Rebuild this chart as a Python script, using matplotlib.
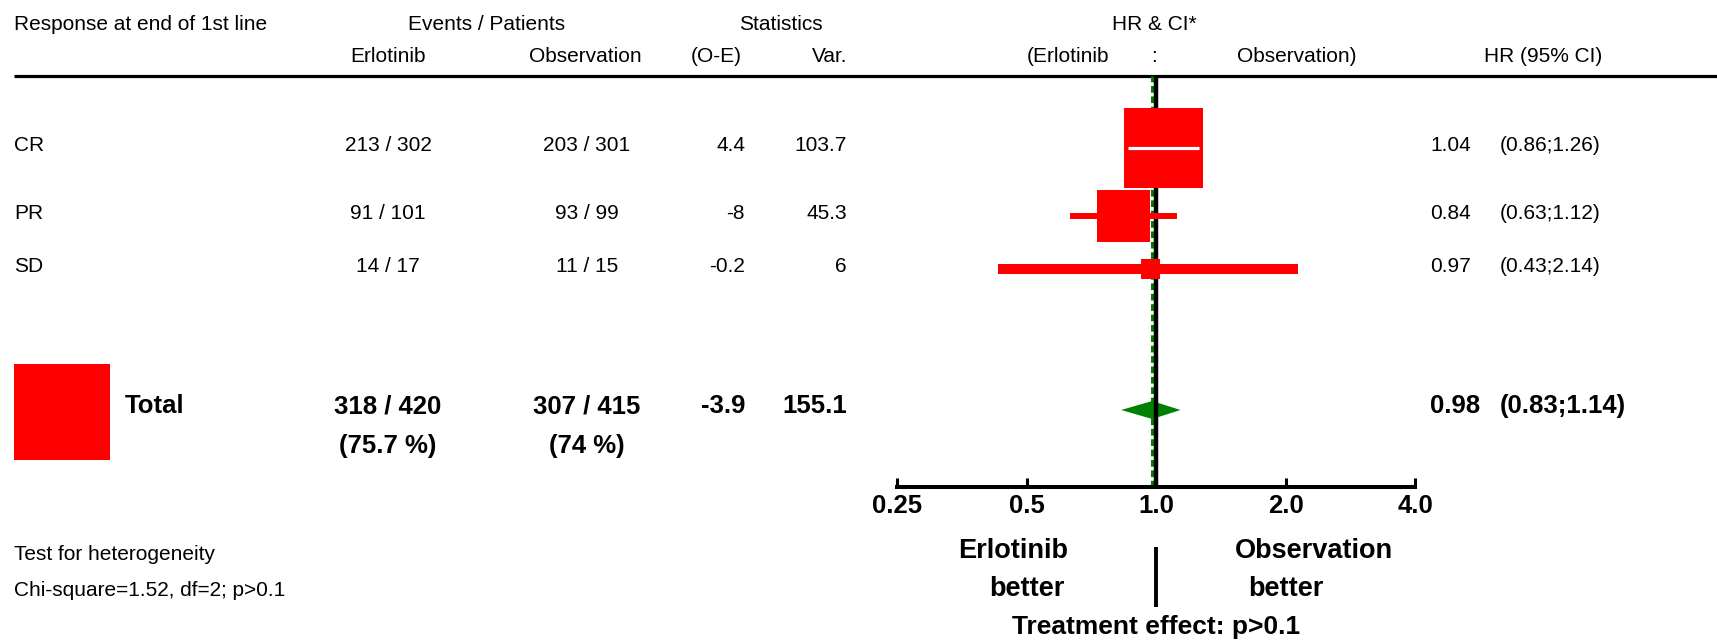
import matplotlib
matplotlib.use('Agg')
import matplotlib.pyplot as plt

# --- Data: response at end of 1st line, erlotinib vs observation ---
groups = ["CR", "PR", "SD"]
erl_events = [213, 91, 14]
erl_patients = [302, 101, 17]
obs_events = [203, 93, 11]
obs_patients = [301, 99, 15]
o_minus_e = [4.4, -8, -0.2]
variance = [103.7, 45.3, 6]
hr = [1.04, 0.84, 0.97]
ci_low = [0.86, 0.63, 0.43]
ci_high = [1.26, 1.12, 2.14]

total_events = [318, 307]
total_patients = [420, 415]
total_pct = [75.7, 74]
total_o_minus_e = -3.9
total_variance = 155.1
total_hr = 0.98
total_ci = [0.83, 1.14]

hr_ticks = [0.25, 0.5, 1.0, 2.0, 4.0]
hr_tick_labels = ["0.25", "0.5", "1.0", "2.0", "4.0"]

# --- Layout / style ---
W, H = 1717, 640
RED = '#ff0000'
GREEN = '#008000'
SQUARE_SCALE = 31.2          # marker area (pt^2) per unit of variance
row_y = [148, 216, 269]      # vertical centre of each subgroup row (px from top)
total_y = 410
ci_colors = ['white', RED, RED]
ci_widths = [2.3, 4.3, 7.2]

plt.rcParams['font.family'] = ['Liberation Sans', 'DejaVu Sans']
FS = 15
FS_B = 18.5

fig = plt.figure(figsize=(W / 100, H / 100), dpi=100)

# table area in pixel coordinates
tab = fig.add_axes([0, 0, 1, 1])
tab.set_xlim(0, W)
tab.set_ylim(H, 0)
tab.axis('off')

def txt(x, y, s, ha='left', size=FS, bold=False):
    tab.text(x, y, s, ha=ha, va='baseline', fontsize=size,
             fontweight='bold' if bold else 'normal')

# headers
txt(14, 30, "Response at end of 1st line")
txt(487, 30, "Events / Patients", ha='center')
txt(781, 30, "Statistics", ha='center')
txt(1154, 30, "HR & CI*", ha='center')
txt(388, 62, "Erlotinib", ha='center')
txt(585, 62, "Observation", ha='center')
txt(716, 62, "(O-E)", ha='center')
txt(847, 62, "Var.", ha='right')
txt(1027, 62, "(Erlotinib")
txt(1154, 62, ":", ha='center')
txt(1237, 62, "Observation)")
txt(1543, 62, "HR (95% CI)", ha='center')
tab.plot([14, W], [76, 76], color='black', lw=2.3, solid_capstyle='butt')

# subgroup rows
for i, g in enumerate(groups):
    y = row_y[i] + 3
    txt(14, y, g)
    txt(388, y, f"{erl_events[i]} / {erl_patients[i]}", ha='center')
    txt(587, y, f"{obs_events[i]} / {obs_patients[i]}", ha='center')
    txt(745, y, f"{o_minus_e[i]:g}", ha='right')
    txt(847, y, f"{variance[i]:g}", ha='right')
    txt(1430, y, f"{hr[i]:.2f}")
    txt(1500, y, f"({ci_low[i]:.2f};{ci_high[i]:.2f})")

# total row
ty = total_y + 3
tab.scatter([62], [total_y + 2], s=SQUARE_SCALE * total_variance, marker='s',
            color=RED, linewidths=0)
txt(125, ty, "Total", bold=True, size=FS_B)
txt(388, ty, f"{total_events[0]} / {total_patients[0]}", ha='center', bold=True, size=FS_B)
txt(587, ty, f"{total_events[1]} / {total_patients[1]}", ha='center', bold=True, size=FS_B)
txt(388, ty + 40, f"({total_pct[0]:g} %)", ha='center', bold=True, size=FS_B)
txt(587, ty + 40, f"({total_pct[1]:g} %)", ha='center', bold=True, size=FS_B)
txt(745, ty, f"{total_o_minus_e:g}", ha='right', bold=True, size=FS_B)
txt(847, ty, f"{total_variance:g}", ha='right', bold=True, size=FS_B)
txt(1430, ty, f"{total_hr:.2f}", bold=True, size=FS_B)
txt(1500, ty, f"({total_ci[0]:.2f};{total_ci[1]:.2f})", bold=True, size=FS_B)

txt(14, 560, "Test for heterogeneity")
txt(14, 596, "Chi-square=1.52, df=2; p>0.1")

# forest plot, log2 HR scale; y kept in pixel rows
ax = fig.add_axes([897 / W, 1 - 487 / H, (1415 - 897) / W, (487 - 76) / H])
ax.set_facecolor('none')
ax.set_xscale('log', base=2)
ax.set_xlim(0.25, 4)
ax.set_ylim(487, 76)
for side in ['top', 'left', 'right']:
    ax.spines[side].set_visible(False)
ax.spines['bottom'].set_linewidth(2.9)
ax.set_yticks([])
ax.set_xticks(hr_ticks)
ax.set_xticklabels(hr_tick_labels)
ax.minorticks_off()
ax.tick_params(axis='x', direction='in', length=6.5, width=2.2, pad=5,
               labelsize=FS_B)
for lab in ax.get_xticklabels():
    lab.set_fontweight('bold')

# pooled diamond
d = 9
ax.fill([total_ci[0], total_hr, total_ci[1], total_hr],
        [total_y, total_y - d, total_y, total_y + d],
        color=GREEN, lw=0, zorder=1)
ax.axvline(total_hr, color=GREEN, lw=2.2, ls=(0, (2.2, 1.2)), zorder=1.5)
ax.axvline(1.0, color='black', lw=3.2, zorder=2)

for i in range(len(groups)):
    ax.plot([ci_low[i], ci_high[i]], [row_y[i], row_y[i]], color=RED,
            lw=ci_widths[i], solid_capstyle='butt', zorder=2.5)
ax.scatter(hr, row_y, s=[SQUARE_SCALE * v for v in variance], marker='s',
           color=RED, linewidths=0, zorder=3)
for i in range(len(groups)):
    if ci_colors[i] == 'white':
        ax.plot([ci_low[i], ci_high[i]], [row_y[i], row_y[i]], color='white',
                lw=ci_widths[i], solid_capstyle='butt', zorder=4)

# labels under the axis
ax.plot([1.0, 1.0], [547, 607], color='black', lw=2.8, clip_on=False,
        solid_capstyle='butt')
ax.text(0.465, 558, "Erlotinib", ha='center', va='baseline', fontsize=19.5,
        fontweight='bold')
ax.text(0.5, 596, "better", ha='center', va='baseline', fontsize=19.5,
        fontweight='bold')
ax.text(2.33, 558, "Observation", ha='center', va='baseline', fontsize=19.5,
        fontweight='bold')
ax.text(2.0, 596, "better", ha='center', va='baseline', fontsize=19.5,
        fontweight='bold')
ax.text(1.0, 634, "Treatment effect: p>0.1", ha='center', va='baseline',
        fontsize=19, fontweight='bold')

fig.savefig('out.png', dpi=100)
